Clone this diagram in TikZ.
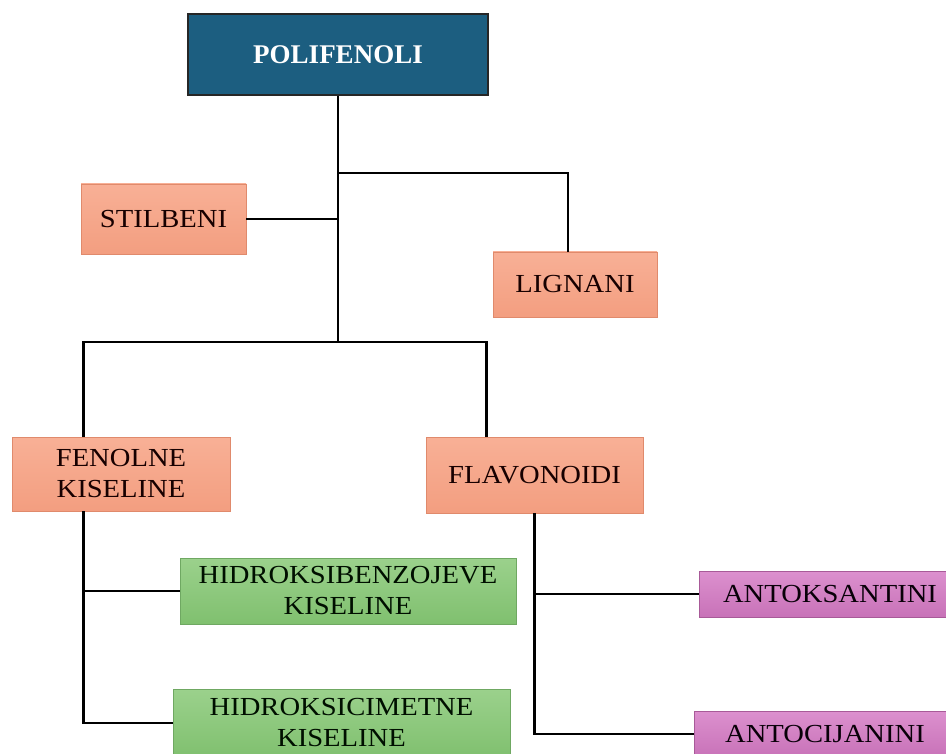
\documentclass[tikz,border=0pt]{standalone}
\usepackage{fontspec}
\setmainfont{Liberation Serif}
\newfontfamily\boxfont{Liberation Serif}[FakeStretch=1.1]
\usetikzlibrary{calc}
\definecolor{teal1}{HTML}{1C5E80}
\definecolor{salT}{HTML}{F8B096}
\definecolor{salB}{HTML}{F39E80}
\definecolor{salD}{HTML}{E08A6C}
\definecolor{grT}{HTML}{9BD18C}
\definecolor{grB}{HTML}{80C06F}
\definecolor{grD}{HTML}{6FA862}
\definecolor{puT}{HTML}{DC90CE}
\definecolor{puB}{HTML}{C872B8}
\definecolor{puD}{HTML}{A85A98}
\tikzset{
  x=1pt, y=-1pt,
  base/.style={rectangle, inner sep=0pt, align=center, line width=0.8pt,
     font=\boxfont\fontsize{26}{31}\selectfont},
  topbox/.style={rectangle, inner sep=0pt, fill=teal1, draw=black!85, line width=2pt,
     text=white, font=\fontsize{27}{31}\selectfont\bfseries,
     minimum width=300pt, minimum height=81pt},
  salbox/.style={base, top color=salT, bottom color=salB, draw=salD, text=black!85!red!60!black},
  grbox/.style={base, top color=grT, bottom color=grB, draw=grD, text=black!85!green!40!black},
  pubox/.style={base, top color=puT, bottom color=puB, draw=puD, text=black!85!violet!50!black},
  conn/.style={draw=black, line width=2.5pt}
}
\begin{document}
\begin{tikzpicture}
\clip (0,0) rectangle (946,754);
\fill[white] (0,0) rectangle (946,754);

\node[topbox] (pol) at (338,54.5) {POLIFENOLI};
\node[salbox, minimum width=165pt, minimum height=70pt] (stil) at (163.5,219) {STILBENI};
\node[salbox, minimum width=164pt, minimum height=65pt] (lig) at (575,284.5) {LIGNANI};
\node[salbox, minimum width=218pt, minimum height=74pt] (fen) at (121,474) {FENOLNE\\KISELINE};
\node[salbox, minimum width=217pt, minimum height=76pt] (fla) at (534.5,475) {FLAVONOIDI};
\node[grbox, minimum width=336pt, minimum height=66pt] (hbz) at (348,591) {HIDROKSIBENZOJEVE\\KISELINE};
\node[grbox, minimum width=337pt, minimum height=68pt] (hcm) at (341.5,723) {HIDROKSICIMETNE\\KISELINE};
\node[pubox, minimum width=262pt, minimum height=46pt] (aks) at (830,594) {ANTOKSANTINI};
\node[pubox, minimum width=262pt, minimum height=46pt] (acj) at (825,734) {ANTOCIJANINI};

% junction points
\coordinate (jl) at ($(pol.south)+(0,77)$);
\coordinate (jb) at ($(pol.south)+(0,246)$);
\coordinate (lt) at ($(lig.north)+(-7,0)$);
\coordinate (ft) at ($(fen.north west)+(72,0)$);
\coordinate (fb) at ($(fen.south west)+(72,0)$);
\coordinate (flt) at ($(fla.north west)+(61,0)$);

% trunk
\draw[conn] (pol.south) -- (jb);
\draw[conn] (jl) -| (lt);
\draw[conn] (stil.east) -- (stil.east -| pol.south);
\draw[conn] (ft) |- (jb) -| (flt);

% fenolne kiseline branch
\draw[conn] (fb) |- (hcm.west);
\draw[conn] (fb |- hbz.west) -- (hbz.west);

% flavonoidi branch
\draw[conn] (fla.south) |- (acj.west);
\draw[conn] (fla.south |- aks.west) -- (aks.west);
\end{tikzpicture}
\end{document}
